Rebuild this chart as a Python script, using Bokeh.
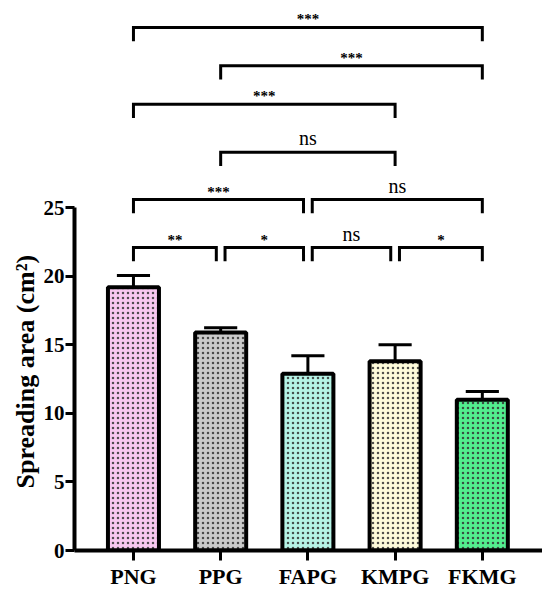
from bokeh.plotting import figure
from bokeh.models import FixedTicker, ColumnDataSource, Range1d, Title
from bokeh.core.properties import value
from bokeh.embed import file_html
from bokeh.resources import INLINE

categories = ["PNG", "PPG", "FAPG", "KMPG", "FKMG"]
means = [19.2, 15.9, 12.9, 13.8, 11.0]
errors = [0.85, 0.35, 1.3, 1.2, 0.6]
colors = ["#F8C8F0", "#CACACA", "#B6F4E6", "#FEFBDA", "#52EE8E"]

# comparisons: (group a, group b, label, row)
comp_a = [0, 1, 2, 3, 0, 2, 1, 0, 1, 0]
comp_b = [1, 2, 3, 4, 2, 4, 3, 3, 4, 4]
comp_labels = ["**", "*", "ns", "*", "***", "ns", "ns", "***", "***", "***"]
comp_rows = [0, 0, 0, 0, 1, 1, 2, 3, 4, 5]
row_heights = [22.1, 25.6, 29.05, 32.55, 35.35, 38.15]
y_label = "Spreading area (cm²)"

FONT = "Liberation Serif"
PX = 39.53 / 544.0  # data units per pixel

x = list(range(len(categories)))
p = figure(width=542, height=591, output_backend="svg", toolbar_location=None,
           x_range=Range1d(-0.676, 4.69), y_range=Range1d(0, 39.53),
           min_border_left=74, min_border_right=0, min_border_top=8, min_border_bottom=39)
p.outline_line_color = None
p.grid.visible = False
p.background_fill_color = "white"

src = ColumnDataSource(dict(x=x, top=means, color=colors,
                            up=[m + e for m, e in zip(means, errors)],
                            cl=[i - 0.19 for i in x], cr=[i + 0.19 for i in x]))
p.segment(x0="x", y0="top", x1="x", y1="up", source=src, line_color="black", line_width=3)
p.segment(x0="cl", y0="up", x1="cr", y1="up", source=src, line_color="black", line_width=3)
p.vbar(x="x", top="top", bottom=0, width=0.585, source=src, fill_color="color",
       line_color="black", line_width=4, hatch_pattern="dot", hatch_color="#333333",
       hatch_scale=5, hatch_weight=1.5, hatch_alpha=0.85)

# brackets
xs, ys, tx, ty, tl, tsz, tst = [], [], [], [], [], [], []
gap = 0.05
for a, b, lab, r in zip(comp_a, comp_b, comp_labels, comp_rows):
    xa, xb = float(a), float(b)
    same = [(a2, b2) for a2, b2, r2 in zip(comp_a, comp_b, comp_rows) if r2 == r and (a2, b2) != (a, b)]
    if any(b2 == a for a2, b2 in same):
        xa += gap
    if any(a2 == b for a2, b2 in same):
        xb -= gap
    h = row_heights[r]
    xs.append([xa, xa, xb, xb])
    ys.append([h - 1.0, h, h, h - 1.0])
    tx.append((xa + xb) / 2)
    tl.append(lab)
    if lab == "ns":
        tsz.append("20px")
        tst.append("normal")
        ty.append(h + 14 * PX)
    else:
        tsz.append("15px")
        tst.append("bold")
        ty.append(h + 8 * PX)
p.multi_line(xs=xs, ys=ys, line_color="black", line_width=3, line_join="miter")
tsrc = ColumnDataSource(dict(x=tx, y=ty, text=tl, size=tsz, style=tst))
p.text(x="x", y="y", text="text", text_font_size="size", text_font_style="style",
       source=tsrc, text_font=value(FONT),
       text_align="center", text_baseline="alphabetic", text_color="black")

# axes
ya = p.yaxis[0]
ya.ticker = FixedTicker(ticks=[0, 5, 10, 15, 20, 25])
ya.bounds = (0, 25)
ya.axis_line_width = 4
ya.major_tick_line_width = 3
ya.major_tick_out = 9
ya.major_tick_in = 0
ya.minor_tick_line_color = None
ya.major_label_text_font = FONT
ya.major_label_text_font_style = "bold"
ya.major_label_text_font_size = "21px"
ya.major_label_text_color = "black"
ya.major_label_standoff = 1

ytitle = Title(text=y_label, align="left", offset=62, standoff=2,
               text_font=FONT, text_font_style="bold", text_font_size="26px",
               text_color="black")
p.add_layout(ytitle, "left")

xa_ = p.xaxis[0]
xa_.ticker = FixedTicker(ticks=x)
xa_.major_label_overrides = {i: c for i, c in zip(x, categories)}
xa_.axis_line_width = 4
xa_.major_tick_line_width = 3
xa_.major_tick_out = 10
xa_.major_tick_in = 0
xa_.minor_tick_line_color = None
xa_.major_label_text_font = FONT
xa_.major_label_text_font_style = "bold"
xa_.major_label_text_font_size = "22px"
xa_.major_label_text_color = "black"
xa_.major_label_standoff = 3

open("out.html", "w").write(file_html(p, INLINE))
